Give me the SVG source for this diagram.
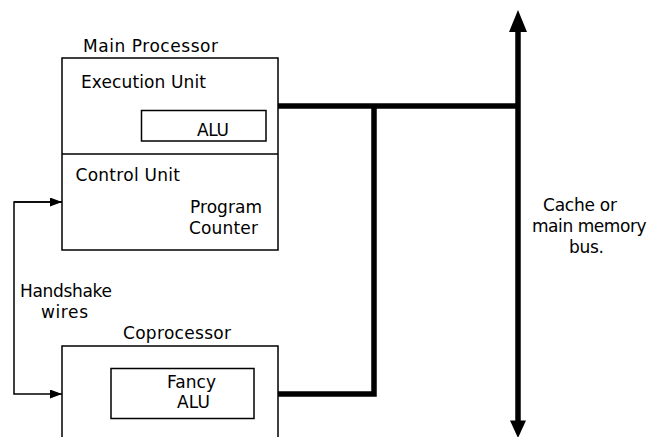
<svg xmlns="http://www.w3.org/2000/svg" width="651" height="437" viewBox="0 0 651 437">
<style>
text{font-family:"DejaVu Sans",Verdana,sans-serif;font-size:17px;fill:#000}
.box{fill:none;stroke:#000;stroke-width:1.5}
.thin{fill:none;stroke:#000;stroke-width:1.5}
.bus{fill:none;stroke:#000;stroke-width:5.5}
</style>
<defs>
<marker id="ah" markerUnits="userSpaceOnUse" markerWidth="12" markerHeight="9" refX="12" refY="4.5" orient="auto">
<path d="M0,0 L12,4.5 L0,9 Z" fill="#000"/>
</marker>
</defs>
<rect width="651" height="437" fill="#fff"/>
<g id="main-processor">
<text x="83" y="52" textLength="135" lengthAdjust="spacing">Main Processor</text>
<rect class="box" x="62" y="58" width="216" height="192"/>
<line class="thin" x1="62" y1="154" x2="278" y2="154"/>
<text x="81" y="87.5" textLength="125" lengthAdjust="spacing">Execution Unit</text>
<text x="75.5" y="181" textLength="104.5" lengthAdjust="spacing">Control Unit</text>
<text x="190" y="213" textLength="72" lengthAdjust="spacing">Program</text>
<text x="189" y="234" textLength="69" lengthAdjust="spacing">Counter</text>
</g>
<g id="alu">
<rect class="box" x="141.5" y="110.5" width="124.5" height="30.5"/>
<text x="197" y="136" textLength="32" lengthAdjust="spacing">ALU</text>
</g>
<g id="coprocessor">
<text x="123" y="339" textLength="108" lengthAdjust="spacing">Coprocessor</text>
<path class="box" d="M62,440 V346 H278 V440"/>
</g>
<g id="fancy-alu">
<rect class="box" x="111" y="368.5" width="143" height="50"/>
<text x="167" y="387.5" textLength="49" lengthAdjust="spacing">Fancy</text>
<text x="177" y="408" textLength="33" lengthAdjust="spacing">ALU</text>
</g>
<g id="labels">
<text x="20" y="296.5" textLength="92" lengthAdjust="spacing">Handshake</text>
<text x="41" y="318" textLength="47" lengthAdjust="spacing">wires</text>
<text x="543" y="210.5" textLength="74" lengthAdjust="spacing">Cache or</text>
<text x="532" y="231.5" textLength="114.5" lengthAdjust="spacing">main memory</text>
<text x="569" y="253" textLength="35" lengthAdjust="spacing">bus.</text>
</g>
<g id="connectors">
<path class="thin" d="M62,202 H14 V394 H62" marker-end="url(#ah)"/>
<path class="thin" d="M14,202 H62" marker-end="url(#ah)"/>
<path class="bus" d="M278,106 H518"/>
<path class="bus" d="M374,106 V394 H278"/>
<line class="bus" x1="518" y1="30" x2="518" y2="422"/>
<path d="M518,10 L527,32 L509,32 Z" fill="#000"/>
<path d="M518,438 L526,420.5 L510,420.5 Z" fill="#000"/>
</g>
</svg>
